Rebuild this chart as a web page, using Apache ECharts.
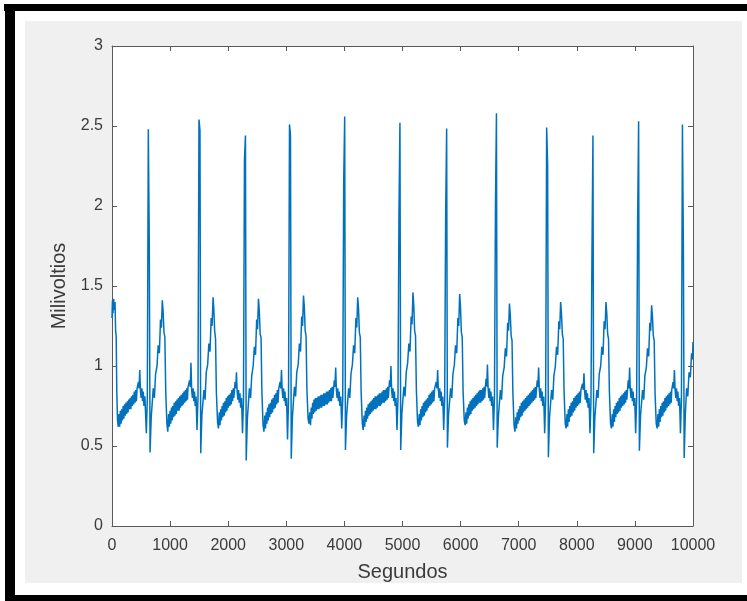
<!DOCTYPE html>
<html>
<head>
<meta charset="utf-8">
<script src="https://cdn.jsdelivr.net/npm/echarts@6/dist/echarts.min.js"></script>
<style>
html,body{margin:0;padding:0;background:#fff;}
#chart{width:747px;height:601px;}
</style>
</head>
<body>
<div id="chart"></div>
<script>
// Axis settings
const xTitle = 'Segundos';
const yTitle = 'Milivoltios';
const xRange = [0, 10000, 1000];
const yRange = [0, 3, 0.5];

// Signal, split into segments: [sample, millivolts]
const lead = [[0,1.30],[8,1.41],[18,1.33],[28,1.42],[40,1.35],[52,1.40],[62,1.22],[72,1.19],[82,0.85],[95,0.66],[108,0.62],
[120,0.70],[132,0.62],[144,0.72],[156,0.64],[168,0.73],[180,0.66],[192,0.75],[204,0.67],[216,0.76],[228,0.69],[240,0.77],[252,0.70],[264,0.78],[276,0.71],[288,0.79],[300,0.73],[312,0.80],[324,0.73],[336,0.81],[348,0.75],[360,0.82],[372,0.76],[384,0.84],[396,0.77],[408,0.85],[420,0.78],[432,0.86],
[455,0.90],[466,0.86],[478,0.975],[490,0.84],[502,0.80],[514,0.86],[526,0.78],[538,0.84],[550,0.75],[566,0.81],[591,0.58],[608,0.80]];

const beat01 = [[625,2.48],[642,1.75],[655,0.46],[675,0.68],[710,0.86],[730,0.80],[750,0.95],[775,1.00],[795,1.13],[815,1.08],[835,1.29],[850,1.24],[866,1.41],[880,1.34],[895,1.21],[910,1.18],[925,0.84],[945,0.64],[960,0.59],
[975,0.70],[987,0.62],[999,0.72],[1011,0.64],[1023,0.74],[1035,0.66],[1047,0.75],[1059,0.68],[1071,0.77],[1083,0.69],[1095,0.78],[1107,0.70],[1119,0.79],[1131,0.72],[1143,0.80],[1155,0.72],[1167,0.81],[1179,0.74],[1191,0.82],[1203,0.75],[1215,0.83],[1227,0.76],[1239,0.84],[1251,0.77],[1263,0.85],[1275,0.78],[1287,0.86],[1299,0.79],[1309,0.87],
[1335,0.91],[1347,0.87],[1359,1.02],[1371,0.85],[1384,0.80],[1396,0.86],[1408,0.78],[1420,0.84],[1432,0.75],[1447,0.81],[1463,0.60],[1480,0.80]];

const beat02 = [[1497,2.54],[1514,2.475],[1527,0.455],[1547,0.69],[1582,0.85],[1602,0.79],[1622,0.96],[1647,1.01],[1667,1.14],[1687,1.09],[1707,1.30],[1722,1.25],[1740,1.43],[1752,1.36],[1767,1.22],[1782,1.17],[1797,0.83],[1817,0.65],[1832,0.61],
[1847,0.71],[1859,0.63],[1871,0.73],[1883,0.66],[1895,0.75],[1907,0.68],[1919,0.77],[1931,0.69],[1943,0.78],[1955,0.71],[1967,0.80],[1979,0.72],[1991,0.81],[2003,0.74],[2015,0.82],[2027,0.75],[2039,0.83],[2051,0.76],[2063,0.85],[2075,0.78],[2087,0.86],[2097,0.80],
[2118,0.90],[2130,0.86],[2142,0.96],[2154,0.84],[2166,0.79],[2178,0.85],[2190,0.77],[2202,0.83],[2214,0.74],[2230,0.80],[2246,0.58],[2263,0.78]];

const beat03 = [[2280,2.29],[2297,2.44],[2310,0.41],[2330,0.67],[2365,0.86],[2385,0.80],[2405,0.94],[2430,1.00],[2450,1.12],[2470,1.07],[2490,1.29],[2505,1.23],[2521,1.42],[2535,1.35],[2550,1.20],[2565,1.18],[2580,0.84],[2600,0.63],[2615,0.59],
[2630,0.69],[2642,0.61],[2654,0.71],[2666,0.64],[2678,0.74],[2690,0.66],[2702,0.76],[2714,0.68],[2726,0.77],[2738,0.70],[2750,0.79],[2762,0.71],[2774,0.80],[2786,0.73],[2798,0.82],[2810,0.74],[2822,0.83],[2834,0.76],[2846,0.85],[2858,0.77],[2870,0.86],
[2893,0.90],[2905,0.86],[2917,0.975],[2929,0.85],[2941,0.80],[2953,0.86],[2965,0.78],[2977,0.84],[2989,0.75],[3005,0.80],[3021,0.54],[3038,0.78]];

const beat04 = [[3055,2.51],[3072,2.44],[3085,0.42],[3105,0.68],[3140,0.87],[3160,0.81],[3180,0.96],[3205,1.01],[3225,1.14],[3245,1.09],[3265,1.31],[3280,1.25],[3296,1.44],[3310,1.37],[3325,1.22],[3340,1.19],[3355,0.85],[3375,0.67],[3390,0.64],
[3405,0.71],[3417,0.63],[3429,0.74],[3441,0.67],[3453,0.77],[3465,0.70],[3477,0.79],[3489,0.71],[3501,0.80],[3513,0.72],[3525,0.80],[3537,0.73],[3549,0.81],[3561,0.73],[3573,0.81],[3585,0.74],[3597,0.82],[3609,0.74],[3621,0.82],[3633,0.75],[3645,0.83],[3657,0.75],[3669,0.83],[3681,0.76],[3693,0.84],[3705,0.76],[3717,0.84],[3729,0.77],[3741,0.85],[3753,0.78],[3765,0.86],[3777,0.78],[3789,0.87],[3801,0.80],
[3826,0.91],[3838,0.87],[3850,0.99],[3862,0.85],[3874,0.80],[3886,0.86],[3898,0.78],[3910,0.84],[3922,0.75],[3938,0.81],[3954,0.61],[3971,0.79]];

const beat05 = [[3988,2.15],[4005,2.56],[4018,0.475],[4038,0.69],[4073,0.86],[4093,0.80],[4113,0.95],[4138,1.01],[4158,1.13],[4178,1.08],[4198,1.30],[4213,1.24],[4229,1.43],[4243,1.36],[4258,1.21],[4273,1.18],[4288,0.84],[4308,0.64],[4323,0.60],
[4338,0.69],[4350,0.62],[4362,0.72],[4374,0.65],[4386,0.74],[4398,0.67],[4410,0.76],[4422,0.69],[4434,0.77],[4446,0.70],[4458,0.78],[4470,0.71],[4482,0.79],[4494,0.72],[4506,0.80],[4518,0.73],[4530,0.81],[4542,0.73],[4554,0.81],[4566,0.74],[4578,0.82],[4590,0.75],[4602,0.83],[4614,0.75],[4626,0.83],[4638,0.76],[4650,0.84],[4662,0.77],[4674,0.85],[4686,0.77],[4698,0.85],[4710,0.78],[4722,0.86],[4734,0.79],[4746,0.87],[4756,0.80],
[4777,0.91],[4789,0.87],[4801,1.00],[4813,0.85],[4825,0.80],[4837,0.86],[4849,0.78],[4861,0.84],[4873,0.75],[4889,0.80],[4905,0.60],[4922,0.79]];

const beat06 = [[4939,1.94],[4956,2.52],[4969,0.475],[4989,0.70],[5024,0.87],[5044,0.81],[5064,0.96],[5089,1.02],[5109,1.14],[5129,1.09],[5149,1.31],[5164,1.26],[5180,1.46],[5194,1.38],[5209,1.22],[5224,1.19],[5239,0.85],[5259,0.65],[5274,0.62],
[5289,0.70],[5301,0.63],[5313,0.73],[5325,0.66],[5337,0.75],[5349,0.68],[5361,0.77],[5373,0.69],[5385,0.78],[5397,0.71],[5409,0.79],[5421,0.72],[5433,0.80],[5445,0.74],[5457,0.82],[5469,0.75],[5481,0.83],[5493,0.76],[5505,0.84],[5517,0.77],[5529,0.85],[5541,0.78],[5553,0.86],
[5581,0.90],[5593,0.86],[5605,0.975],[5617,0.85],[5629,0.80],[5641,0.86],[5653,0.78],[5665,0.84],[5677,0.75],[5693,0.81],[5709,0.60],[5726,0.80]];

const beat07 = [[5743,1.96],[5760,2.485],[5773,0.49],[5793,0.70],[5828,0.86],[5848,0.80],[5868,0.95],[5893,1.01],[5913,1.13],[5933,1.08],[5953,1.30],[5968,1.25],[5984,1.45],[5998,1.37],[6013,1.21],[6028,1.18],[6043,0.84],[6063,0.66],[6078,0.63],
[6093,0.71],[6105,0.64],[6117,0.74],[6129,0.67],[6141,0.76],[6153,0.69],[6165,0.78],[6177,0.70],[6189,0.79],[6201,0.72],[6213,0.80],[6225,0.73],[6237,0.81],[6249,0.74],[6261,0.82],[6273,0.75],[6285,0.83],[6297,0.76],[6309,0.84],[6321,0.77],[6333,0.85],[6345,0.77],[6357,0.85],[6369,0.78],[6381,0.86],[6393,0.79],[6405,0.87],[6414,0.80],
[6438,0.92],[6450,0.87],[6462,1.01],[6474,0.86],[6486,0.80],[6498,0.86],[6510,0.78],[6522,0.84],[6534,0.75],[6550,0.81],[6566,0.60],[6583,0.80]];

const beat08 = [[6600,1.99],[6617,2.58],[6630,0.49],[6650,0.68],[6685,0.85],[6705,0.79],[6725,0.94],[6750,0.99],[6770,1.11],[6790,1.06],[6810,1.27],[6825,1.22],[6841,1.39],[6855,1.32],[6870,1.19],[6885,1.16],[6900,0.83],[6920,0.63],[6935,0.59],
[6950,0.68],[6962,0.61],[6974,0.71],[6986,0.64],[6998,0.73],[7010,0.66],[7022,0.75],[7034,0.68],[7046,0.77],[7058,0.69],[7070,0.78],[7082,0.71],[7094,0.79],[7106,0.72],[7118,0.80],[7130,0.73],[7142,0.81],[7154,0.74],[7166,0.82],[7178,0.75],[7190,0.83],[7202,0.76],[7214,0.84],[7226,0.77],[7238,0.85],[7250,0.78],[7262,0.86],[7274,0.79],[7286,0.87],[7295,0.80],
[7319,0.91],[7331,0.87],[7343,0.99],[7355,0.85],[7367,0.80],[7379,0.86],[7391,0.78],[7403,0.84],[7415,0.75],[7431,0.81],[7447,0.58],[7464,0.79]];

const beat09 = [[7481,2.49],[7498,2.26],[7511,0.43],[7531,0.68],[7566,0.85],[7586,0.79],[7606,0.94],[7631,1.00],[7651,1.12],[7671,1.07],[7691,1.28],[7706,1.23],[7722,1.40],[7736,1.33],[7751,1.20],[7766,1.17],[7781,0.84],[7801,0.64],[7816,0.61],
[7831,0.70],[7843,0.62],[7855,0.73],[7867,0.65],[7879,0.75],[7891,0.68],[7903,0.77],[7915,0.69],[7927,0.78],[7939,0.71],[7951,0.80],[7963,0.72],[7975,0.81],[7987,0.74],[7999,0.82],[8011,0.75],[8023,0.83],[8035,0.76],[8047,0.84],[8059,0.77],[8071,0.85],
[8099,0.89],[8111,0.85],[8123,0.955],[8135,0.84],[8147,0.79],[8159,0.85],[8171,0.77],[8183,0.83],[8195,0.74],[8211,0.80],[8227,0.58],[8244,0.78]];

const beat10 = [[8261,1.70],[8278,2.44],[8291,0.455],[8311,0.68],[8346,0.85],[8366,0.80],[8386,0.95],[8411,1.00],[8431,1.12],[8451,1.07],[8471,1.28],[8486,1.23],[8502,1.40],[8516,1.33],[8531,1.20],[8546,1.17],[8561,0.84],[8581,0.64],[8596,0.61],
[8611,0.70],[8623,0.62],[8635,0.73],[8647,0.65],[8659,0.75],[8671,0.68],[8683,0.77],[8695,0.70],[8707,0.78],[8719,0.71],[8731,0.80],[8743,0.72],[8755,0.81],[8767,0.74],[8779,0.82],[8791,0.75],[8803,0.83],[8815,0.76],[8827,0.84],[8839,0.77],[8851,0.85],[8861,0.79],
[8885,0.91],[8897,0.86],[8909,0.99],[8921,0.85],[8933,0.80],[8945,0.86],[8957,0.78],[8969,0.84],[8981,0.75],[8997,0.80],[9013,0.58],[9030,0.79]];

const beat11 = [[9047,1.90],[9064,2.53],[9077,0.47],[9097,0.69],[9132,0.85],[9152,0.79],[9172,0.94],[9197,0.99],[9217,1.11],[9237,1.06],[9257,1.27],[9272,1.22],[9288,1.38],[9302,1.31],[9317,1.19],[9332,1.16],[9347,0.83],[9367,0.64],[9382,0.61],
[9397,0.70],[9409,0.62],[9421,0.73],[9433,0.65],[9445,0.75],[9457,0.68],[9469,0.77],[9481,0.69],[9493,0.78],[9505,0.71],[9517,0.80],[9529,0.72],[9541,0.81],[9553,0.74],[9565,0.82],[9577,0.75],[9589,0.83],[9601,0.76],[9613,0.84],[9625,0.77],[9634,0.85],
[9656,0.90],[9668,0.86],[9680,0.975],[9692,0.85],[9704,0.80],[9716,0.86],[9728,0.78],[9740,0.84],[9752,0.75],[9768,0.80],[9784,0.58],[9801,0.79]];

const beat12 = [[9818,2.51],[9835,1.71],[9848,0.425],[9868,0.70],[9890,0.86],[9910,0.81],[9932,0.96],[9955,0.93],[9975,1.08],[9990,1.04],[10000,1.15]];

const signal = [].concat(lead, beat01, beat02, beat03, beat04, beat05, beat06, beat07, beat08, beat09, beat10, beat11, beat12);

const chart = echarts.init(document.getElementById('chart'), null, {renderer: 'canvas'});
const axisCol = '#5a5a5a';
const textCol = '#3a3a3a';
const fontFam = 'Liberation Sans, Arial, sans-serif';

function boxAxis(pos, rng) {
  return {
    type: 'value', position: pos, min: rng[0], max: rng[1], interval: rng[2],
    axisLine: {show: true, onZero: false, lineStyle: {color: axisCol, width: 1}},
    axisTick: {show: true, inside: true, length: 5, lineStyle: {color: axisCol}},
    axisLabel: {show: false}, splitLine: {show: false}
  };
}

chart.setOption({
  animation: false,
  backgroundColor: 'transparent',
  graphic: [
    {type: 'rect', z: -10, shape: {x: 4, y: 4, width: 743, height: 7}, style: {fill: '#000'}},
    {type: 'rect', z: -10, shape: {x: 5, y: 4, width: 10, height: 597}, style: {fill: '#000'}},
    {type: 'rect', z: -10, shape: {x: 5, y: 595, width: 742, height: 6}, style: {fill: '#000'}},
    {type: 'rect', z: -10, shape: {x: 25, y: 21, width: 717, height: 562}, style: {fill: '#f0f0f0'}}
  ],
  grid: {left: 112, right: 54, top: 46, bottom: 75, show: true, backgroundColor: '#ffffff', borderWidth: 0},
  xAxis: [
    {
      type: 'value', position: 'bottom', min: xRange[0], max: xRange[1], interval: xRange[2],
      name: xTitle, nameLocation: 'middle', nameGap: 36,
      nameTextStyle: {color: textCol, fontSize: 20, fontFamily: fontFam},
      axisLine: {show: true, onZero: false, lineStyle: {color: axisCol, width: 1}},
      axisTick: {show: true, inside: true, length: 5, lineStyle: {color: axisCol}},
      axisLabel: {color: textCol, fontSize: 16, fontFamily: fontFam, margin: 12, formatter: v => String(v)},
      splitLine: {show: false}
    },
    boxAxis('top', xRange)
  ],
  yAxis: [
    {
      type: 'value', position: 'left', min: yRange[0], max: yRange[1], interval: yRange[2],
      name: yTitle, nameLocation: 'middle', nameGap: 40, nameRotate: 90,
      nameTextStyle: {color: textCol, fontSize: 20, fontFamily: fontFam},
      axisLine: {show: true, onZero: false, lineStyle: {color: axisCol, width: 1}},
      axisTick: {show: true, inside: true, length: 5, lineStyle: {color: axisCol}},
      axisLabel: {color: textCol, fontSize: 16, fontFamily: fontFam, margin: 9},
      splitLine: {show: false}
    },
    boxAxis('right', yRange)
  ],
  series: [{
    type: 'line', xAxisIndex: 0, yAxisIndex: 0, data: signal,
    showSymbol: false, symbol: 'none', sampling: null,
    lineStyle: {color: '#0072BD', width: 1.5}
  }]
});
</script>
</body>
</html>
